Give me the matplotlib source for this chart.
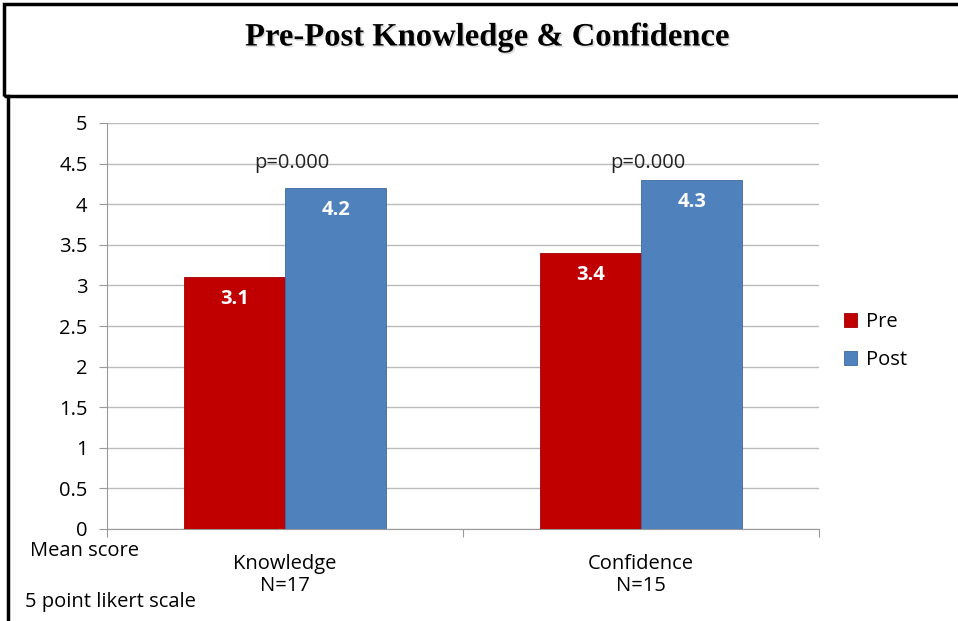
import matplotlib
matplotlib.use("Agg")
import matplotlib.pyplot as plt
import matplotlib.patheffects as pe
from matplotlib.patches import Rectangle
import numpy as np

# data
categories = ["Knowledge\nN=17", "Confidence\nN=15"]
pre_scores = [3.1, 3.4]
post_scores = [4.2, 4.3]
p_values = ["p=0.000", "p=0.000"]
yticks = [0, 0.5, 1, 1.5, 2, 2.5, 3, 3.5, 4, 4.5, 5]

RED = "#C00000"
BLUE = "#4F81BD"
FONT = ["Open Sans", "DejaVu Sans"]
FS = 14.5

plt.rcParams["font.family"] = FONT

fig = plt.figure(figsize=(9.58, 6.21), dpi=100)
W, H = 958.0, 621.0

# title box and left border line (figure pixel coords converted to fractions)
box = Rectangle((4 / W, 1 - 96 / H), 1.1, 92 / H, transform=fig.transFigure,
                fill=False, edgecolor="black", linewidth=2.5, clip_on=False)
fig.patches.append(box)
fig.add_artist(plt.Line2D([8 / W, 8 / W], [0, 1 - 96 / H], transform=fig.transFigure,
                          color="black", linewidth=2.5))
fig.text(487 / W, 1 - 37 / H, "Pre-Post Knowledge & Confidence",
         ha="center", va="center", fontsize=23.5, fontweight="bold",
         family=["Liberation Serif", "DejaVu Serif"],
         path_effects=[pe.withSimplePatchShadow(offset=(1.2, -1.2), shadow_rgbFace="#bbbbbb", alpha=0.5)])

ax = fig.add_axes([107 / W, 1 - 529 / H, (819 - 107) / W, (529 - 123) / H])

x = np.arange(len(categories))
width = 0.285
bars_pre = ax.bar(x - width / 2, pre_scores, width, color=RED, edgecolor="#A00000",
                  linewidth=0.6, label="Pre", zorder=3)
bars_post = ax.bar(x + width / 2, post_scores, width, color=BLUE, edgecolor="#3C6A9E",
                   linewidth=0.6, label="Post", zorder=3)

for bars in (bars_pre, bars_post):
    for b in bars:
        ax.text(b.get_x() + b.get_width() / 2, b.get_height() - 0.27, f"{b.get_height():.1f}",
                ha="center", va="center", color="white", fontsize=FS, fontweight="bold", zorder=4)

for i, p in enumerate(p_values):
    ax.text(x[i] + 0.02, 4.51, p, ha="center", va="center", fontsize=FS, color="#222222", zorder=4)

ax.set_xlim(-0.5, 1.5)
ax.set_ylim(0, 5)
ax.set_yticks(yticks)
ax.set_yticklabels([f"{t:g}" for t in yticks])
ax.yaxis.grid(True, color="#BBBBBB", linewidth=1.0, zorder=0)
ax.set_axisbelow(True)

# category ticks at group boundaries, labels centred under groups
ax.set_xticks([-0.5, 0.5, 1.5])
ax.set_xticklabels([])
ax.set_xticks(x, minor=True)
ax.set_xticklabels(categories, minor=True, fontsize=FS, linespacing=1.15)
ax.tick_params(axis="x", which="major", length=6, color="#999999", direction="out")
ax.tick_params(axis="x", which="minor", length=0, pad=18)
ax.tick_params(axis="y", length=6, color="#999999", labelsize=FS, pad=8)

for s in ["top", "right"]:
    ax.spines[s].set_visible(False)
ax.spines["left"].set_color("#999999")
ax.spines["bottom"].set_color("#999999")

fig.text(30 / W, 1 - 551 / H, "Mean score", ha="left", va="center", fontsize=FS)
fig.text(25 / W, 1 - 602 / H, "5 point likert scale", ha="left", va="center", fontsize=FS)

ax.legend(loc="center left", bbox_to_anchor=(1.01, 0.463), frameon=False, fontsize=FS,
          handlelength=0.65, handleheight=0.65, handletextpad=0.45, labelspacing=0.9)

fig.savefig("out.png", dpi=100)
